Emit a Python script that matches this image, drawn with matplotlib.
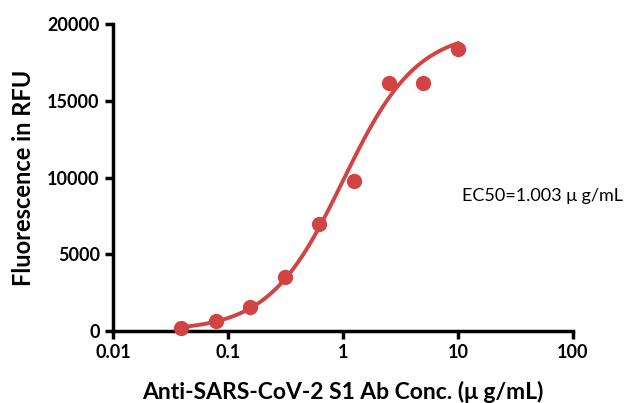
import numpy as np
import matplotlib.pyplot as plt

# concentrations (ug/mL) and measured fluorescence
conc = [0.039, 0.078, 0.156, 0.3125, 0.625, 1.25, 2.5, 5, 10]
rfu = [175, 670, 1580, 3540, 6970, 9790, 16180, 16180, 18390]

# 4PL fit parameters
bottom = 0
top = 19600
ec50 = 1.003
hill = 1.35

red = '#D24343'

plt.rcParams['font.family'] = ['Lato', 'DejaVu Sans']

fig = plt.figure(figsize=(6.24, 4.03), dpi=100)
ax = fig.add_axes([0.181, 0.179, 0.737, 0.761])

xs = np.logspace(np.log10(conc[0]), np.log10(conc[-1]), 200)
fit = bottom + (top - bottom) / (1 + (ec50 / xs) ** hill)
ax.plot(xs, fit, color=red, lw=2.8, zorder=2)
ax.plot(conc, rfu, 'o', color=red, ms=10, zorder=3, clip_on=False)

ax.set_xscale('log')
ax.set_xlim(0.01, 100)
ax.set_ylim(0, 20000)
ax.set_xticks([0.01, 0.1, 1, 10, 100])
ax.set_xticklabels(['0.01', '0.1', '1', '10', '100'])
ax.minorticks_off()
ax.set_yticks([0, 5000, 10000, 15000, 20000])

for s in ['top', 'right']:
    ax.spines[s].set_visible(False)
for s in ['left', 'bottom']:
    ax.spines[s].set_linewidth(2.5)
ax.tick_params(width=2.5, length=6, labelsize=13)
for lab in ax.get_xticklabels() + ax.get_yticklabels():
    lab.set_fontweight('bold')

ax.set_xlabel('Anti-SARS-CoV-2 S1 Ab Conc. (\u03bc g/mL)', fontsize=16.5, fontweight='bold', labelpad=14)
ax.set_ylabel('Fluorescence in RFU', fontsize=17, fontweight='bold', labelpad=9)

ax.text(10.9, 8800, 'EC50=1.003 \u03bc g/mL', fontsize=13, ha='left', va='center')

fig.savefig('out.png')
